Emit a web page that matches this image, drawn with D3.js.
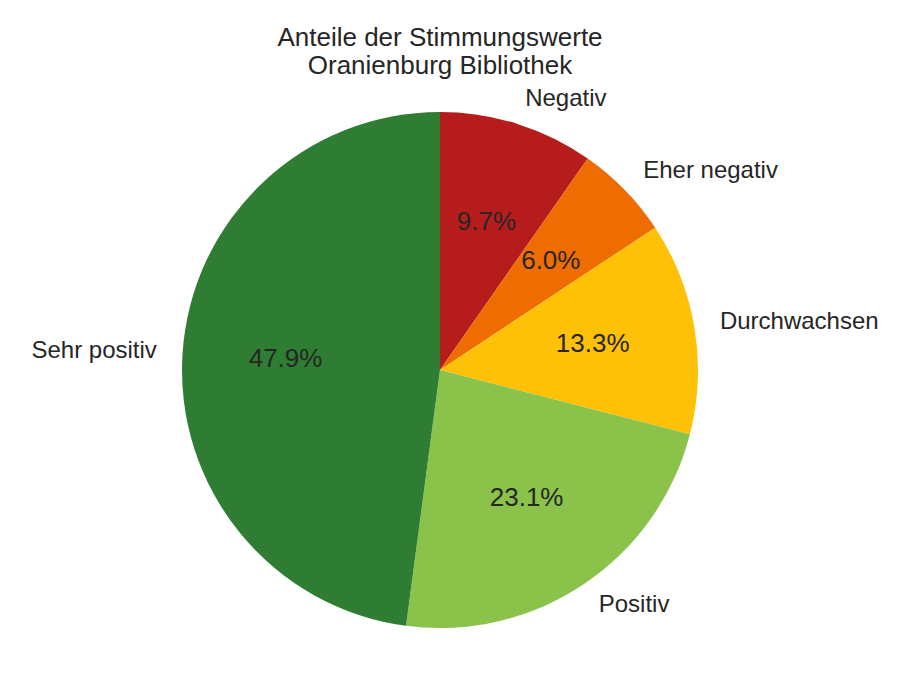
<!DOCTYPE html>
<html><head><meta charset="utf-8">
<script src="https://cdn.jsdelivr.net/npm/d3@7"></script>
<style>body{margin:0;background:#fff;} text{font-family:"Liberation Sans",Arial,sans-serif;fill:#262626;}</style>
</head><body>
<svg id="c" width="911" height="683"></svg>
<script>
const categories = ["Negativ","Eher negativ","Durchwachsen","Positiv","Sehr positiv"];
const values = [9.7, 6.0, 13.3, 23.1, 47.9];
const colors = ["#b71c1c","#ef6c00","#ffc107","#8bc34a","#2e7d32"];
const titleLines = ["Anteile der Stimmungswerte","Oranienburg Bibliothek"];

const svg = d3.select("#c");
const cx = 440, cy = 370, r = 258;
const g = svg.append("g").attr("transform",`translate(${cx},${cy})`);
const data = categories.map((c,i)=>({c, v:values[i], col:colors[i]}));
const pie = d3.pie().value(d=>d.v).sort(null);
const arcs = pie(data);
const arc = d3.arc().innerRadius(0).outerRadius(r);
g.selectAll("path").data(arcs).join("path").attr("d",arc).attr("fill",d=>d.data.col);
const total = d3.sum(values);
arcs.forEach(a=>{
  const m=(a.startAngle+a.endAngle)/2;
  const lx=Math.sin(m)*r*1.1, ly=-Math.cos(m)*r*1.1;
  g.append("text").attr("x",lx).attr("y",ly).attr("dy","0.27em")
   .attr("text-anchor",lx>=0?"start":"end").attr("font-size",24).text(a.data.c);
  const px=Math.sin(m)*r*0.6, py=-Math.cos(m)*r*0.6;
  g.append("text").attr("x",px).attr("y",py).attr("dy","0.28em")
   .attr("text-anchor","middle").attr("font-size",26).text((a.data.v/total*100).toFixed(1)+"%");
});
svg.append("text").attr("x",cx).attr("y",0).attr("text-anchor","middle").attr("font-size",26)
 .selectAll("tspan").data(titleLines).join("tspan").attr("x",cx).attr("y",(d,i)=>46+i*28).text(d=>d);
</script>
</body></html>
